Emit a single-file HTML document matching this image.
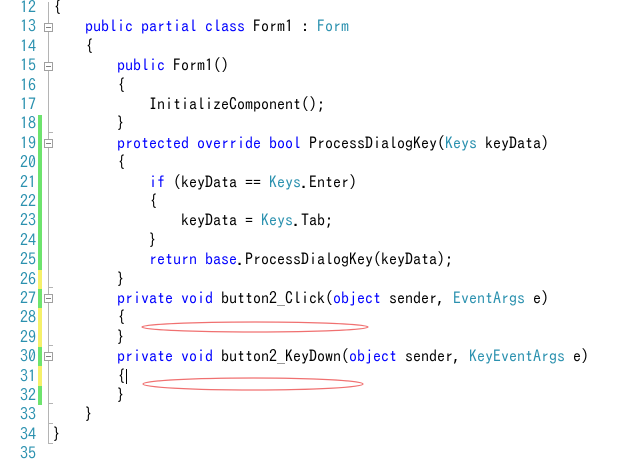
<!DOCTYPE html>
<html><head><meta charset="utf-8"><style>
body{margin:0;width:620px;height:458px;background:#fff;position:relative;overflow:hidden;font-family:"IPAGothic","Liberation Mono",monospace;font-size:16px;}
#w{position:absolute;left:0;top:2px;width:620px;height:458px;}
.n{position:absolute;left:0;width:36px;text-align:right;color:#2b91af;height:19.4px;line-height:19.4px;}
.c{position:absolute;white-space:pre;color:#000;height:19.4px;line-height:19.4px;}
.k{color:#0000ff}.t{color:#2b91af}
.bar{position:absolute;left:38px;width:4px;}
.fb{position:absolute;left:44px;width:7px;height:7px;border:1px solid #a0a0a0;background:#fff;}
.fb:after{content:"";position:absolute;left:1px;top:3px;width:5px;height:1px;background:#808080}
.fl{position:absolute;left:48px;width:1px;background:#b4b4b4}
.fe{position:absolute;left:48px;width:5px;height:1px;background:#b4b4b4}
.cur{display:inline-block;width:1px;height:15px;background:#000;vertical-align:-2px;margin-left:1px}
</style></head><body><div id="w">
<div class="n" style="top:-4px">12</div>
<div class="n" style="top:15.4px">13</div>
<div class="n" style="top:34.8px">14</div>
<div class="n" style="top:54.2px">15</div>
<div class="n" style="top:73.6px">16</div>
<div class="n" style="top:93px">17</div>
<div class="n" style="top:112.4px">18</div>
<div class="n" style="top:131.8px">19</div>
<div class="n" style="top:151.2px">20</div>
<div class="n" style="top:170.6px">21</div>
<div class="n" style="top:190px">22</div>
<div class="n" style="top:209.4px">23</div>
<div class="n" style="top:228.8px">24</div>
<div class="n" style="top:248.2px">25</div>
<div class="n" style="top:267.6px">26</div>
<div class="n" style="top:287px">27</div>
<div class="n" style="top:306.4px">28</div>
<div class="n" style="top:325.8px">29</div>
<div class="n" style="top:345.2px">30</div>
<div class="n" style="top:364.6px">31</div>
<div class="n" style="top:384px">32</div>
<div class="n" style="top:403.4px">33</div>
<div class="n" style="top:422.8px">34</div>
<div class="n" style="top:442.2px">35</div>

<div class="bar" style="top:113px;height:155px;background:#6ee36e"></div>
<div class="bar" style="top:268px;height:19px;background:#f5f06a"></div>
<div class="bar" style="top:287px;height:19px;background:#6ee36e"></div>
<div class="bar" style="top:306px;height:39px;background:#f5f06a"></div>
<div class="bar" style="top:345px;height:19px;background:#6ee36e"></div>
<div class="bar" style="top:364px;height:20px;background:#f5f06a"></div>
<div class="bar" style="top:384px;height:19px;background:#6ee36e"></div>

<div class="fl" style="top:0;height:442px"></div>
<div class="fe" style="top:441px"></div>
<div class="fe" style="top:421px"></div>
<div class="fe" style="top:130px"></div>
<div class="fe" style="top:285px"></div>
<div class="fe" style="top:343px"></div>
<div class="fe" style="top:401px"></div>
<div class="fb" style="top:21px"></div>
<div class="fb" style="top:60px"></div>
<div class="fb" style="top:137px"></div>
<div class="fb" style="top:292px"></div>
<div class="fb" style="top:350px"></div>

<div class="c" style="left:53px;top:-4px">{</div>
<div class="c" style="left:85px;top:15.4px"><span class="k">public partial class</span> Form1 : <span class="t">Form</span></div>
<div class="c" style="left:85px;top:34.8px">{</div>
<div class="c" style="left:117px;top:54.2px"><span class="k">public</span> Form1()</div>
<div class="c" style="left:117px;top:73.6px">{</div>
<div class="c" style="left:149px;top:93px">InitializeComponent();</div>
<div class="c" style="left:117px;top:112.4px">}</div>
<div class="c" style="left:117px;top:131.8px"><span class="k">protected override bool</span> ProcessDialogKey(<span class="t">Keys</span> keyData)</div>
<div class="c" style="left:117px;top:151.2px">{</div>
<div class="c" style="left:149px;top:170.6px"><span class="k">if</span> (keyData == <span class="t">Keys</span>.Enter)</div>
<div class="c" style="left:149px;top:190px">{</div>
<div class="c" style="left:181px;top:209.4px">keyData = <span class="t">Keys</span>.Tab;</div>
<div class="c" style="left:149px;top:228.8px">}</div>
<div class="c" style="left:149px;top:248.2px"><span class="k">return base</span>.ProcessDialogKey(keyData);</div>
<div class="c" style="left:117px;top:267.6px">}</div>
<div class="c" style="left:117px;top:287px"><span class="k">private void</span> button2_Click(<span class="k">object</span> sender, <span class="t">EventArgs</span> e)</div>
<div class="c" style="left:117px;top:306.4px">{</div>
<div class="c" style="left:117px;top:325.8px">}</div>
<div class="c" style="left:117px;top:345.2px"><span class="k">private void</span> button2_KeyDown(<span class="k">object</span> sender, <span class="t">KeyEventArgs</span> e)</div>
<div class="c" style="left:117px;top:364.6px">{<span class="cur"></span></div>
<div class="c" style="left:117px;top:384px">}</div>
<div class="c" style="left:85px;top:403.4px">}</div>
<div class="c" style="left:53px;top:422.8px">}</div>
</div>
<svg style="position:absolute;left:0;top:0" width="620" height="458">
<ellipse cx="255" cy="327" rx="113" ry="5" fill="none" stroke="#f07070" stroke-width="1.2"/>
<ellipse cx="253" cy="384" rx="110" ry="6" fill="none" stroke="#f07070" stroke-width="1.2"/>
</svg>
</body></html>
